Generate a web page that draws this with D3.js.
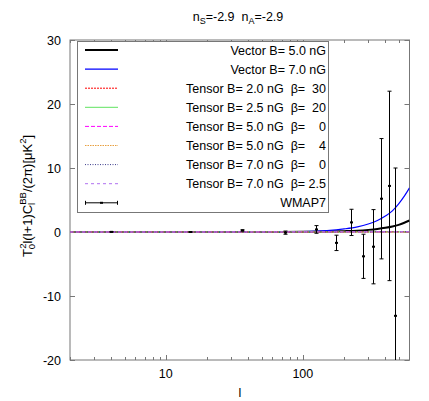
<!DOCTYPE html>
<html>
<head>
<meta charset="utf-8">
<script src="https://cdn.jsdelivr.net/npm/d3@7"></script>
<style>
  body { margin: 0; background: #fff; }
  svg { font-family: "Liberation Sans", Arial, sans-serif; }
</style>
</head>
<body>
<div id="chart"></div>
<script>
// multipoles for the model curves
var ell = [2, 10, 50, 100, 150, 200, 250, 300, 350, 400, 450, 500, 550, 600];

var vector5 = [0, 0, 0.005, 0.02, 0.06, 0.13, 0.21, 0.33, 0.47, 0.65, 0.86, 1.12, 1.45, 1.8];
var vector7 = [0, 0, 0.02, 0.08, 0.22, 0.48, 0.8, 1.25, 1.8, 2.5, 3.3, 4.4, 5.6, 6.9];

var tensorA = [0, 0.001, 0.003, 0.006, 0.008, 0.01, 0.012, 0.013, 0.014, 0.015, 0.016, 0.017, 0.018, 0.019];
var tensorB = [0, 0.001, 0.002, 0.004, 0.006, 0.007, 0.008, 0.009, 0.01, 0.011, 0.012, 0.012, 0.013, 0.013];
var tensorC = [0, 0.001, 0.004, 0.008, 0.011, 0.013, 0.015, 0.017, 0.018, 0.019, 0.02, 0.021, 0.022, 0.023];
var tensorD = [0, 0.001, 0.005, 0.009, 0.013, 0.016, 0.018, 0.02, 0.022, 0.023, 0.024, 0.025, 0.026, 0.027];
var tensorE = [0, 0.002, 0.008, 0.015, 0.02, 0.025, 0.028, 0.03, 0.032, 0.034, 0.035, 0.036, 0.037, 0.038];
var tensorF = [0, 0.002, 0.009, 0.017, 0.023, 0.028, 0.032, 0.035, 0.037, 0.039, 0.04, 0.041, 0.042, 0.043];

// WMAP7 binned BB points
var wmapL = [4, 15, 36, 74, 124, 174, 224, 274, 324, 374, 424, 474];
var wmapVal = [0.02, 0.0, 0.25, -0.1, 0.4, -1.7, 1.5, -3.8, -2.3, 5.2, 7.2, -13.1];
var wmapErr = [0.05, 0.05, 0.1, 0.25, 0.6, 1.2, 2.05, 3.45, 5.8, 9.4, 14.8, 23.1];

var yTicks = [-20, -10, 0, 10, 20, 30];
var xMajor = [10, 100];
var xMinor = [2, 3, 4, 5, 6, 7, 8, 9, 20, 30, 40, 50, 60, 70, 80, 90, 200, 300, 400, 500];

var series = [
  { name: "Vector B= 5.0 nG", values: vector5, color: "#000000", width: 2, dash: null },
  { name: "Vector B= 7.0 nG", values: vector7, color: "#0000ff", width: 1.2, dash: null },
  { name: "Tensor B= 2.0 nG  \u03b2=  30", values: tensorA, color: "#ff0000", width: 1, dash: "2,1" },
  { name: "Tensor B= 2.5 nG  \u03b2=  20", values: tensorB, color: "#5fe35f", width: 1, dash: null },
  { name: "Tensor B= 5.0 nG  \u03b2=    0", values: tensorC, color: "#ff00ff", width: 1, dash: "4,2" },
  { name: "Tensor B= 5.0 nG  \u03b2=    4", values: tensorD, color: "#e8a040", width: 1.2, dash: "1.5,1" },
  { name: "Tensor B= 7.0 nG  \u03b2=    0", values: tensorE, color: "#3a3a8a", width: 1, dash: "1,1.5" },
  { name: "Tensor B= 7.0 nG  \u03b2= 2.5", values: tensorF, color: "#b070f0", width: 1, dash: "3,3" }
];

var width = 429;
var height = 401;
var pLeft = 70, pRight = 409.5, pTop = 40, pBottom = 360;

var svg = d3.select("#chart").append("svg")
  .attr("width", width)
  .attr("height", height);

var xScale = d3.scaleLog().domain([2, 600]).range([pLeft, pRight]);
var yScale = d3.scaleLinear().domain([-20, 30]).range([pBottom, pTop]);

svg.append("clipPath").attr("id", "plotclip")
  .append("rect")
  .attr("x", pLeft).attr("y", pTop)
  .attr("width", pRight - pLeft).attr("height", pBottom - pTop);

/* frame */
svg.append("rect")
  .attr("x", pLeft).attr("y", pTop)
  .attr("width", pRight - pLeft).attr("height", pBottom - pTop)
  .attr("fill", "none")
  .attr("stroke", "#777")
  .attr("stroke-width", 1);

/* ticks, mirrored on all sides, pointing inward */
var ticks = svg.append("g").attr("stroke", "#777").attr("stroke-width", 1);
yTicks.forEach(function (v) {
  var yy = Math.round(yScale(v)) + 0.5;
  ticks.append("line").attr("x1", pLeft).attr("x2", pLeft + 5).attr("y1", yy).attr("y2", yy);
  ticks.append("line").attr("x1", pRight - 5).attr("x2", pRight).attr("y1", yy).attr("y2", yy);
});
xMajor.forEach(function (v) {
  var xx = Math.round(xScale(v)) + 0.5;
  ticks.append("line").attr("x1", xx).attr("x2", xx).attr("y1", pBottom).attr("y2", pBottom - 5);
  ticks.append("line").attr("x1", xx).attr("x2", xx).attr("y1", pTop).attr("y2", pTop + 5);
});
xMinor.forEach(function (v) {
  var xx = Math.round(xScale(v)) + 0.5;
  ticks.append("line").attr("x1", xx).attr("x2", xx).attr("y1", pBottom).attr("y2", pBottom - 3);
  ticks.append("line").attr("x1", xx).attr("x2", xx).attr("y1", pTop).attr("y2", pTop + 3);
});

/* tick labels */
svg.append("g").selectAll("text")
  .data(yTicks).enter().append("text")
  .attr("x", pLeft - 9)
  .attr("y", function (d) { return yScale(d) + 4.5; })
  .attr("text-anchor", "end")
  .attr("font-size", "12.5px")
  .text(function (d) { return d; });

svg.append("g").selectAll("text")
  .data(xMajor).enter().append("text")
  .attr("x", function (d) { return xScale(d); })
  .attr("y", pBottom + 18)
  .attr("text-anchor", "middle")
  .attr("font-size", "12.5px")
  .text(function (d) { return d; });

/* axis labels and title */
svg.append("text")
  .attr("x", 240).attr("y", 397)
  .attr("text-anchor", "middle")
  .attr("font-size", "12.5px")
  .text("l");

var title = svg.append("text")
  .attr("x", 238).attr("y", 21)
  .attr("text-anchor", "middle")
  .attr("font-size", "12.5px")
  .attr("xml:space", "preserve");
title.append("tspan").text("n");
title.append("tspan").attr("dy", 3).attr("font-size", "9px").text("S");
title.append("tspan").attr("dy", -3).text("=-2.9  n");
title.append("tspan").attr("dy", 3).attr("font-size", "9px").text("A");
title.append("tspan").attr("dy", -3).text("=-2.9");

var ylab = svg.append("text")
  .attr("transform", "translate(32,196) rotate(-90)")
  .attr("text-anchor", "middle")
  .attr("font-size", "13px");
ylab.append("tspan").text("T");
ylab.append("tspan").attr("dy", 3).attr("font-size", "9.5px").text("0");
ylab.append("tspan").attr("dy", -9).attr("dx", -5).attr("font-size", "9.5px").text("2");
ylab.append("tspan").attr("dy", 6).text("l(l+1)C");
ylab.append("tspan").attr("dy", 3).attr("font-size", "9.5px").text("l");
ylab.append("tspan").attr("dy", -9).attr("dx", -2).attr("font-size", "9.5px").text("BB");
ylab.append("tspan").attr("dy", 6).text("/(2\u03c0)[\u03bcK");
ylab.append("tspan").attr("dy", -6).attr("font-size", "9.5px").text("2");
ylab.append("tspan").attr("dy", 6).text("]");

/* curves */
var line = d3.line()
  .x(function (d, i) { return xScale(ell[i]); })
  .y(function (d) { return yScale(d); })
  .curve(d3.curveMonotoneX);

var plot = svg.append("g").attr("clip-path", "url(#plotclip)");

plot.selectAll(".curve")
  .data(series).enter().append("path")
  .attr("class", "curve")
  .attr("d", function (d) { return line(d.values); })
  .attr("fill", "none")
  .attr("stroke", function (d) { return d.color; })
  .attr("stroke-width", function (d) { return d.width; })
  .attr("stroke-dasharray", function (d) { return d.dash; });

/* data points with error bars, on top of the curves */
var bars = plot.append("g").attr("stroke", "#000").attr("stroke-width", 1);
wmapL.forEach(function (l, i) {
  var xx = Math.round(xScale(l)) + 0.5;
  var y0 = yScale(wmapVal[i] - wmapErr[i]);
  var y1 = yScale(wmapVal[i] + wmapErr[i]);
  bars.append("line").attr("x1", xx).attr("x2", xx).attr("y1", y0).attr("y2", y1);
  bars.append("line").attr("x1", xx - 2).attr("x2", xx + 2).attr("y1", y0).attr("y2", y0);
  bars.append("line").attr("x1", xx - 2).attr("x2", xx + 2).attr("y1", y1).attr("y2", y1);
  bars.append("rect")
    .attr("x", xx - 1.5).attr("y", yScale(wmapVal[i]) - 1)
    .attr("width", 3).attr("height", 2)
    .attr("fill", "#000").attr("stroke", "none");
});

/* legend */
var lg = svg.append("g");
lg.append("rect")
  .attr("x", 77.5).attr("y", 41.5)
  .attr("width", 251).attr("height", 171)
  .attr("fill", "#fff")
  .attr("stroke", "#777");

var rowY = function (i) { return 50 + i * 19.1; };
series.forEach(function (s, i) {
  var yy = rowY(i);
  lg.append("line")
    .attr("x1", 85).attr("x2", 118)
    .attr("y1", yy).attr("y2", yy)
    .attr("stroke", s.color)
    .attr("stroke-width", s.width)
    .attr("stroke-dasharray", s.dash);
  lg.append("text")
    .attr("x", 326).attr("y", yy + 4.5)
    .attr("text-anchor", "end")
    .attr("font-size", "12.5px")
    .attr("xml:space", "preserve")
    .style("white-space", "pre")
    .text(s.name);
});
var wy = rowY(8);
lg.append("line").attr("x1", 85).attr("x2", 118).attr("y1", wy).attr("y2", wy).attr("stroke", "#000");
lg.append("line").attr("x1", 85.5).attr("x2", 85.5).attr("y1", wy - 2).attr("y2", wy + 2).attr("stroke", "#000");
lg.append("line").attr("x1", 117.5).attr("x2", 117.5).attr("y1", wy - 2).attr("y2", wy + 2).attr("stroke", "#000");
lg.append("rect").attr("x", 100).attr("y", wy - 1).attr("width", 3).attr("height", 2).attr("fill", "#000");
lg.append("text")
  .attr("x", 326).attr("y", wy + 4.5)
  .attr("text-anchor", "end")
  .attr("font-size", "12.5px")
  .text("WMAP7");
</script>
</body>
</html>
